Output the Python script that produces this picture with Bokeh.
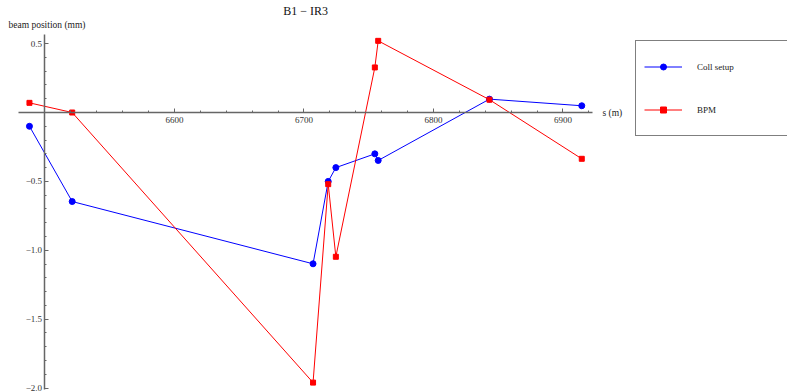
from bokeh.plotting import figure
from bokeh.models import (Range1d, FixedTicker, Label, Legend, LegendItem)
from bokeh.embed import file_html
from bokeh.resources import INLINE

# ---- data ----
s_pos = [6488, 6521, 6707, 6718.7, 6724.6, 6754.7, 6757.3, 6843.2, 6914.5]
coll_setup = [-0.10, -0.646, -1.098, -0.50, -0.40, -0.30, -0.348, 0.097, 0.049]
bpm = [0.07, 0.0, -1.96, -0.52, -1.047, 0.327, 0.52, 0.093, -0.336]

x_major = [6600, 6700, 6800, 6900]
x_minor = list(range(6520, 6921, 20))
y_major = [-2.0, -1.5, -1.0, -0.5, 0.5]
y_minor = [round(-2.0 + 0.1 * i, 1) for i in range(26)]
y_labels = {-2.0: "\u22122.0", -1.5: "\u22121.5", -1.0: "\u22121.0", -0.5: "\u22120.5", 0.5: "0.5"}

FONT = "Liberation Serif"

# frame covers the whole canvas; axes are drawn at fixed data locations
p = figure(width=787, height=392, output_backend="svg", toolbar_location=None,
           x_range=Range1d(6465.64, 7073.36), y_range=Range1d(-2.0319, 0.8128),
           min_border=0, min_border_left=0, min_border_right=0,
           min_border_top=0, min_border_bottom=0)
p.grid.visible = False
p.outline_line_color = None
p.background_fill_color = "white"
p.border_fill_color = "white"

for ax in (p.xaxis[0], p.yaxis[0]):
    ax.axis_line_color = "#666666"
    ax.axis_line_width = 1.5
    ax.major_tick_line_color = "#666666"
    ax.minor_tick_line_color = "#666666"
    ax.major_tick_out = 0
    ax.minor_tick_out = 0
    ax.major_tick_in = 4
    ax.minor_tick_in = 2
    ax.major_label_text_font = FONT
    ax.major_label_text_font_size = "9px"
    ax.major_label_text_color = "#333333"

p.xaxis[0].fixed_location = 0
p.yaxis[0].fixed_location = 6500
p.xaxis[0].bounds = (6479.2, 6922.8)
p.yaxis[0].bounds = (-2.012, 0.566)
p.xaxis[0].ticker = FixedTicker(ticks=x_major, minor_ticks=x_minor)
p.yaxis[0].ticker = FixedTicker(ticks=y_major, minor_ticks=y_minor)
p.yaxis[0].major_label_overrides = y_labels
p.xaxis[0].major_label_standoff = 4
p.yaxis[0].major_label_standoff = 3

l1 = p.line(s_pos, coll_setup, line_color="#0000ff", line_width=1)
m1 = p.scatter(s_pos, coll_setup, marker="circle", size=6, fill_color="#0000ff", line_color="#0000ff")
l2 = p.line(s_pos, bpm, line_color="#ff0000", line_width=1)
m2 = p.scatter(s_pos, bpm, marker="square", size=5, fill_color="#ff0000", line_color="#ff0000")

legend = Legend(items=[LegendItem(label="Coll setup", renderers=[l1, m1]),
                       LegendItem(label="BPM", renderers=[l2, m2])],
                location=(635, 256), margin=0, padding=8, spacing=8,
                glyph_width=38, glyph_height=15, label_height=35, label_width=82,
                label_standoff=15, label_text_font=FONT, label_text_font_size="9px",
                label_text_color="#222222", border_line_color="black", border_line_width=1,
                background_fill_color="white", background_fill_alpha=1)
p.add_layout(legend, "center")

p.add_layout(Label(x=6701.2, y=0.733, text="B1 \u2212 IR3", text_font=FONT, text_font_size="12px",
                   text_align="center", text_baseline="middle", text_color="#111111"))
p.add_layout(Label(x=6471.8, y=0.6386, text="beam position (mm)", text_font=FONT,
                   text_font_size="9.5px", text_align="left", text_baseline="middle",
                   text_color="#222222"))
p.add_layout(Label(x=6930.5, y=-0.007, text="s (m)", text_font=FONT, text_font_size="9.5px",
                   text_align="left", text_baseline="middle", text_color="#222222"))

open("out.html", "w").write(file_html(p, INLINE))
